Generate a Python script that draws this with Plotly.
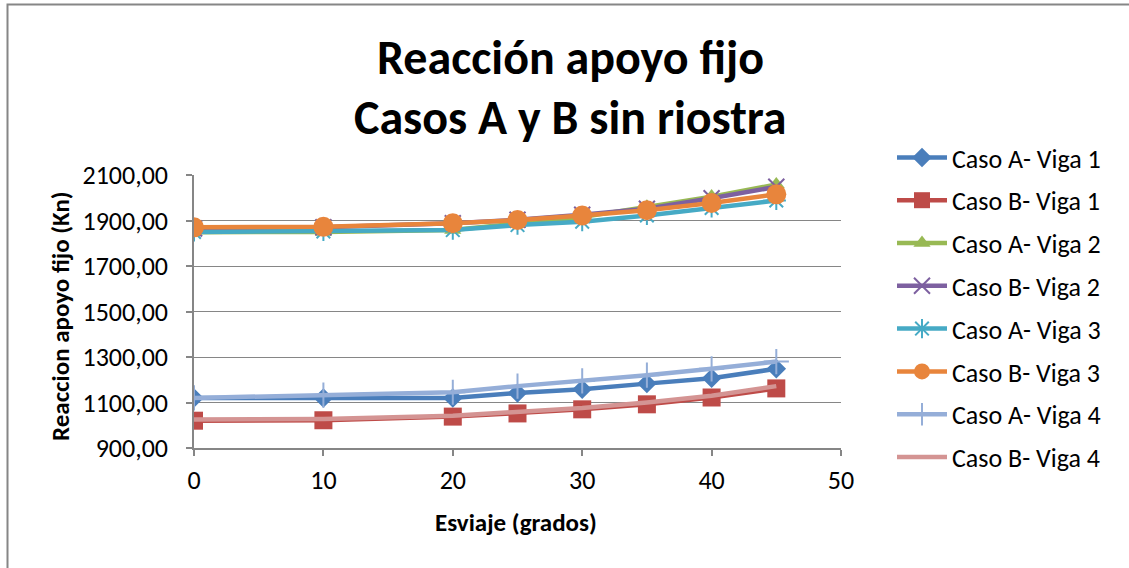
import plotly.graph_objects as go

esviaje = [0, 10, 20, 25, 30, 35, 40, 45]
series_names = ["Caso A- Viga 1", "Caso B- Viga 1", "Caso A- Viga 2", "Caso B- Viga 2",
                "Caso A- Viga 3", "Caso B- Viga 3", "Caso A- Viga 4", "Caso B- Viga 4"]
a_viga1 = [1120, 1120, 1120, 1142, 1158, 1183, 1207, 1248]
b_viga1 = [1020, 1022, 1038, 1052, 1070, 1092, 1122, 1162]
a_viga2 = [1848, 1850, 1858, 1885, 1915, 1960, 2005, 2058]
b_viga2 = [1865, 1870, 1888, 1903, 1925, 1952, 1998, 2048]
a_viga3 = [1850, 1852, 1858, 1880, 1895, 1922, 1955, 1988]
b_viga3 = [1870, 1872, 1888, 1902, 1922, 1945, 1977, 2015]
a_viga4 = [1120, 1132, 1145, 1172, 1195, 1220, 1248, 1280]
b_viga4 = [1025, 1028, 1042, 1058, 1076, 1100, 1130, 1172]
values = [a_viga1, b_viga1, a_viga2, b_viga2, a_viga3, b_viga3, a_viga4, b_viga4]

colors = ["#4A7EBB", "#BE4B48", "#98B954", "#7D60A0", "#46AAC5", "#E8853C", "#95AED8", "#D49493"]
symbols = ["diamond", "square", "triangle-up", "x-thin-open", "asterisk-open", "circle", "cross-thin-open", None]
sizes = [15, 18, 15, 16, 16, 20, 18, 0]

FONT = "Carlito, Lato, sans-serif"
GRID = "#868686"

fig = go.Figure()
for i, (name, vals) in enumerate(zip(series_names, values)):
    marker = dict(color=colors[i], size=sizes[i])
    if symbols[i] is not None:
        marker["symbol"] = symbols[i]
        if symbols[i].endswith("-open"):
            marker["line"] = dict(color=colors[i], width=2)
        mode = "lines+markers"
    else:
        mode = "lines"
    fig.add_trace(go.Scatter(
        x=esviaje, y=vals, name=name, mode=mode,
        line=dict(color=colors[i], width=4.5),
        marker=marker, legendgroup=f"g{i}",
    ))

L, R, T, B = 194, 288, 175, 120
W, H = 1129, 568
pw, ph = W - L - R, H - T - B

def px(xp):
    return (xp - L) / pw

def py(yp):
    return (H - B - yp) / ph

fig.update_layout(
    width=W, height=H,
    margin=dict(l=L, r=R, t=T, b=B, autoexpand=False),
    paper_bgcolor="white", plot_bgcolor="white",
    font=dict(family=FONT, size=26, color="#000000"),
    separators=", ",
    showlegend=True,
    legend=dict(x=px(892), y=py(134), xanchor="left", yanchor="top",
                font=dict(family=FONT, size=26), tracegroupgap=6,
                itemwidth=50, maxheight=560,
                bgcolor="rgba(0,0,0,0)"),
    xaxis=dict(range=[0, 50], dtick=10, tick0=0, showgrid=False,
               showline=True, linecolor=GRID, linewidth=1.5,
               ticks="outside", ticklen=6, tickcolor=GRID, tickwidth=1.5,
               ticklabelstandoff=2, zeroline=False,
               tickfont=dict(family=FONT, size=26)),
    yaxis=dict(range=[900, 2100], dtick=200, tick0=900, tickformat=".2f",
               showgrid=True, gridcolor=GRID, gridwidth=1.2,
               showline=True, linecolor=GRID, linewidth=1.5,
               ticks="outside", ticklen=6, tickcolor=GRID, tickwidth=1.5,
               ticklabelstandoff=13, zeroline=False,
               tickfont=dict(family=FONT, size=26)),
    xaxis2=dict(range=[0, 50], dtick=10, tick0=0, overlaying="x", anchor="y",
                showgrid=False, showticklabels=False, ticks="inside", ticklen=6,
                tickcolor=GRID, tickwidth=1.5, zeroline=False, showline=False),
    yaxis2=dict(range=[900, 2100], dtick=200, tick0=900, overlaying="y", anchor="x",
                showgrid=False, showticklabels=False, ticks="inside", ticklen=6,
                tickcolor=GRID, tickwidth=1.5, zeroline=False, showline=False),
    shapes=[dict(type="rect", xref="paper", yref="paper",
                 x0=px(7.5), y0=-2, x1=3, y1=py(4.5),
                 line=dict(color=GRID, width=2), fillcolor="rgba(0,0,0,0)", layer="below")],
    annotations=[
        dict(text="<b>Reacción apoyo fijo</b>", x=px(570), y=py(57), xref="paper", yref="paper",
             showarrow=False, xanchor="center", yanchor="middle",
             font=dict(family=FONT, size=48, color="#000000")),
        dict(text="<b>Casos A y B sin riostra</b>", x=px(570), y=py(117), xref="paper", yref="paper",
             showarrow=False, xanchor="center", yanchor="middle",
             font=dict(family=FONT, size=48, color="#000000")),
        dict(text="<b>Esviaje (grados)</b>", x=px(516), y=py(522), xref="paper", yref="paper",
             showarrow=False, xanchor="center", yanchor="middle",
             font=dict(family=FONT, size=25, color="#000000")),
        dict(text="<b>Reaccion apoyo fijo (Kn)</b>", x=px(60), y=py(316), xref="paper", yref="paper",
             showarrow=False, xanchor="center", yanchor="middle", textangle=-90,
             font=dict(family=FONT, size=25, color="#000000")),
    ],
)

fig.write_html("out.html", config={"displayModeBar": False},
               post_script="document.body.style.margin='0px';")
